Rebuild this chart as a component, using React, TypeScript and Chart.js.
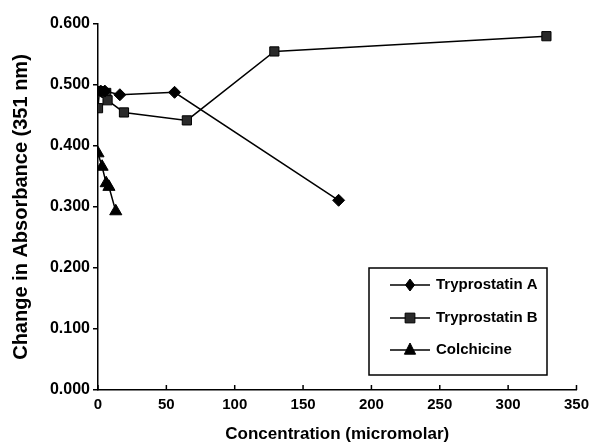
import React, { useEffect, useRef } from "react";
import { Chart, registerables } from "chart.js";

Chart.register(...registerables);

const xTicks = [0, 50, 100, 150, 200, 250, 300, 350];
const yTicks = [0, 0.1, 0.2, 0.3, 0.4, 0.5, 0.6];

const trypAX = [2, 5, 16, 56, 176];
const trypAY = [0.49, 0.49, 0.484, 0.488, 0.311];

const trypBX = [0, 1, 6, 7, 19, 65, 129, 328];
const trypBY = [0.462, 0.49, 0.487, 0.475, 0.455, 0.442, 0.555, 0.58];

const colchX = [0, 3, 6, 8, 13];
const colchY = [0.388, 0.366, 0.339, 0.333, 0.293];

const seriesNames = ["Tryprostatin A", "Tryprostatin B", "Colchicine"];

const FONT = "'Liberation Sans', Arial, sans-serif";

function pts(xs: number[], ys: number[]) {
  return xs.map((x, i) => ({ x, y: ys[i] }));
}

const customPlugin = {
  id: "custom",
  afterDraw(chart: any) {
    const ctx = chart.ctx;
    const xs = chart.scales.x;
    const area = chart.chartArea;
    ctx.save();
    // inward x ticks
    ctx.strokeStyle = "#000";
    ctx.lineWidth = 1.5;
    xTicks.forEach((t) => {
      const px = xs.getPixelForValue(t);
      ctx.beginPath();
      ctx.moveTo(px, area.bottom);
      ctx.lineTo(px, area.bottom - 5);
      ctx.stroke();
    });
    // legend box
    const bx = 369, by = 268, bw = 178, bh = 107;
    ctx.lineWidth = 1.5;
    ctx.strokeRect(bx, by, bw, bh);
    const rows = [285, 318, 350];
    chart.data.datasets.forEach((ds: any, i: number) => {
      const y = rows[i];
      ctx.strokeStyle = "#000";
      ctx.lineWidth = 1.5;
      ctx.beginPath();
      ctx.moveTo(390, y);
      ctx.lineTo(430, y);
      ctx.stroke();
      const r = ds.pointRadius;
      ctx.fillStyle = ds.pointBackgroundColor;
      ctx.strokeStyle = "#000";
      ctx.lineWidth = 1;
      const cx = 410;
      ctx.beginPath();
      if (ds.pointStyle === "rectRot") {
        ctx.moveTo(cx, y - r);
        ctx.lineTo(cx + r * 0.75, y);
        ctx.lineTo(cx, y + r);
        ctx.lineTo(cx - r * 0.75, y);
        ctx.closePath();
      } else if (ds.pointStyle === "rect") {
        ctx.rect(cx - r * 0.75, y - r * 0.75, r * 1.5, r * 1.5);
      } else {
        ctx.moveTo(cx, y - r);
        ctx.lineTo(cx + r * 0.8, y + r * 0.6);
        ctx.lineTo(cx - r * 0.8, y + r * 0.6);
        ctx.closePath();
      }
      ctx.fill();
      ctx.stroke();
      ctx.fillStyle = "#000";
      ctx.font = `bold 15px ${FONT}`;
      ctx.textAlign = "left";
      ctx.textBaseline = "middle";
      ctx.fillText(ds.label, 436, y);
    });
    ctx.restore();
  },
};

export default function App() {
  const ref = useRef<HTMLCanvasElement | null>(null);
  useEffect(() => {
    if (!ref.current) return;
    const common = {
      borderColor: "#000",
      borderWidth: 1.5,
      pointBorderColor: "#000",
      pointBorderWidth: 1,
      showLine: true,
      tension: 0,
      fill: false,
    };
    const chart = new Chart(ref.current, {
      type: "scatter",
      data: {
        datasets: [
          {
            ...common,
            label: seriesNames[0],
            data: pts(trypAX, trypAY),
            pointStyle: "rectRot",
            pointRadius: 6,
            pointBackgroundColor: "#000",
          },
          {
            ...common,
            label: seriesNames[1],
            data: pts(trypBX, trypBY),
            pointStyle: "rect",
            pointRadius: 6.5,
            pointBackgroundColor: "#2a2a2a",
          },
          {
            ...common,
            label: seriesNames[2],
            data: pts(colchX, colchY),
            pointStyle: "triangle",
            pointRadius: 7,
            pointBackgroundColor: "#000",
          },
        ] as any,
      },
      options: {
        animation: false,
        responsive: false,
        maintainAspectRatio: false,
        layout: { padding: { left: 0, right: 17, top: 24, bottom: 0 } },
        plugins: {
          legend: { display: false },
          tooltip: { enabled: false },
        },
        scales: {
          x: {
            type: "linear",
            min: 0,
            max: 350,
            afterBuildTicks: (s: any) => {
              s.ticks = xTicks.map((v) => ({ value: v }));
            },
            afterFit: (s: any) => {
              s.height = 55;
            },
            grid: { display: false, drawTicks: false },
            border: { display: true, color: "#000", width: 1.5 },
            ticks: {
              color: "#000",
              padding: 6,
              font: { family: FONT, size: 15, weight: "bold" },
            },
            title: {
              display: true,
              text: "Concentration (micromolar)",
              color: "#000",
              font: { family: FONT, size: 17, weight: "bold" },
              padding: { top: 9, bottom: 0 },
            },
          },
          y: {
            type: "linear",
            min: 0,
            max: 0.6,
            afterBuildTicks: (s: any) => {
              s.ticks = yTicks.map((v) => ({ value: v }));
            },
            afterFit: (s: any) => {
              s.width = 98;
            },
            grid: {
              display: true,
              drawOnChartArea: false,
              drawTicks: true,
              tickLength: 5,
              color: "#000",
              lineWidth: 1.5,
            },
            border: { display: true, color: "#000", width: 1.5 },
            ticks: {
              color: "#000",
              padding: 3,
              font: { family: FONT, size: 16, weight: "bold" },
              callback: (v: any) => Number(v).toFixed(3),
            },
            title: {
              display: true,
              text: "Change in Absorbance (351 nm)",
              color: "#000",
              font: { family: FONT, size: 20, weight: "bold" },
              padding: { top: 9, bottom: 0 },
            },
          },
        },
      } as any,
      plugins: [customPlugin],
    });
    return () => chart.destroy();
  }, []);
  return (
    <div style={{ position: "fixed", left: 0, top: 0, width: 595, height: 445, background: "#fff" }}>
      <canvas ref={ref} width={595} height={445} style={{ width: 595, height: 445 }} />
    </div>
  );
}
